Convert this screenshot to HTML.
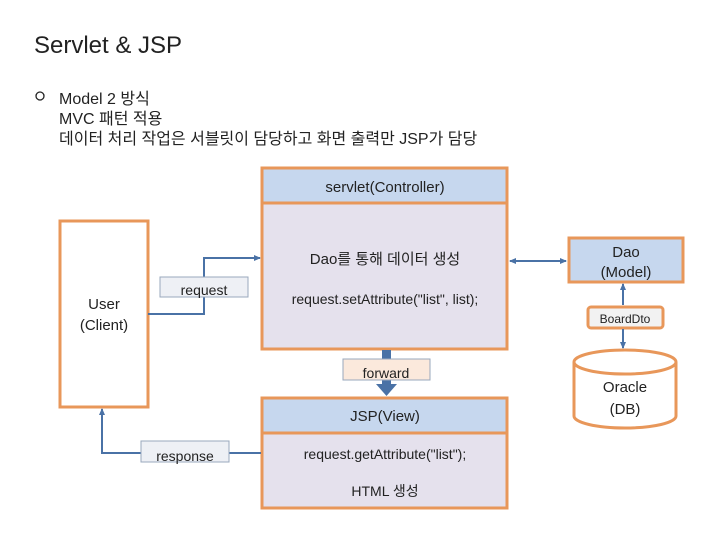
<!DOCTYPE html>
<html><head><meta charset="utf-8"><style>
html,body{margin:0;padding:0;background:#fff;}
svg{display:block;font-family:"Liberation Sans","Noto Sans CJK KR",sans-serif;}
</style></head><body>
<svg width="720" height="540" viewBox="0 0 720 540" xmlns="http://www.w3.org/2000/svg">
<defs>
<marker id="a" markerUnits="userSpaceOnUse" markerWidth="7" markerHeight="7" refX="6" refY="3.5" orient="auto"><path d="M0,0.5 L7,3.5 L0,6.5 z" fill="#4a72a6"/></marker>
<marker id="b" markerUnits="userSpaceOnUse" markerWidth="7" markerHeight="7" refX="1" refY="3.5" orient="auto"><path d="M7,0.5 L0,3.5 L7,6.5 z" fill="#4a72a6"/></marker>
</defs>
<text x="34" y="53" font-size="24" fill="#222">Servlet &amp; JSP</text>
<circle cx="40" cy="96" r="4" fill="none" stroke="#222" stroke-width="1.3"/>
<text x="59" y="104" font-size="16" fill="#222">Model 2 방식</text>
<text x="59" y="124" font-size="16" fill="#222">MVC 패턴 적용</text>
<text x="59" y="144" font-size="16" fill="#222">데이터 처리 작업은 서블릿이 담당하고 화면 출력만 JSP가 담당</text>

<g stroke="#e8975a" stroke-width="3">
<rect x="262" y="168" width="245" height="35" fill="#c6d7ee"/>
<rect x="262" y="203" width="245" height="146" fill="#e5e1ed"/>
<rect x="60" y="221" width="88" height="186" fill="#fff"/>
<rect x="262" y="398" width="245" height="35" fill="#c6d7ee"/>
<rect x="262" y="433" width="245" height="75" fill="#e5e1ed"/>
<rect x="569" y="238" width="114" height="44" fill="#c6d7ee"/>
<rect x="588" y="307" width="75" height="21" rx="3" fill="#f2f2f2"/>
<path d="M574,362 L574,416 A51,12 0 0 0 676,416 L676,362" fill="#fff"/>
<ellipse cx="625" cy="362" rx="51" ry="12" fill="#fff"/>
</g>
<g stroke="#4a72a6" stroke-width="2" fill="none">
<path d="M148,314 L204,314 L204,258 L260,258" marker-end="url(#a)"/>
<path d="M261,453 L102,453 L102,409" marker-end="url(#a)"/>
<path d="M510,261 L566,261" marker-start="url(#b)" marker-end="url(#a)"/>
<path d="M623,305 L623,284" marker-end="url(#a)"/>
<path d="M623,329 L623,348" marker-end="url(#a)"/>
</g>
<rect x="382" y="350" width="9" height="36" fill="#4a72a6"/>
<path d="M376,384 L397,384 L386.5,396 z" fill="#4a72a6"/>
<rect x="160" y="277" width="88" height="20" fill="#eef0f5" stroke="#9aa8bd"/>
<rect x="141" y="441" width="88" height="21" fill="#eef0f5" stroke="#9aa8bd"/>
<rect x="343" y="359" width="87" height="21" fill="#fbe9dc" stroke="#9aa8bd"/>
<g font-size="15" fill="#222" text-anchor="middle">
<text x="385" y="192">servlet(Controller)</text>
<text x="385" y="264" font-size="15">Dao를 통해 데이터 생성</text>
<text x="385" y="304" font-size="14">request.setAttribute("list", list);</text>
<text x="104" y="309">User</text>
<text x="104" y="330">(Client)</text>
<text x="204" y="295" font-size="14">request</text>
<text x="185" y="461" font-size="14">response</text>
<text x="386" y="378" font-size="14">forward</text>
<text x="385" y="421">JSP(View)</text>
<text x="385" y="459" font-size="14">request.getAttribute("list");</text>
<text x="385" y="496" font-size="14">HTML 생성</text>
<text x="626" y="257">Dao</text>
<text x="626" y="277">(Model)</text>
<text x="625" y="323" font-size="12">BoardDto</text>
<text x="625" y="392">Oracle</text>
<text x="625" y="414">(DB)</text>
</g>
</svg>
</body></html>
